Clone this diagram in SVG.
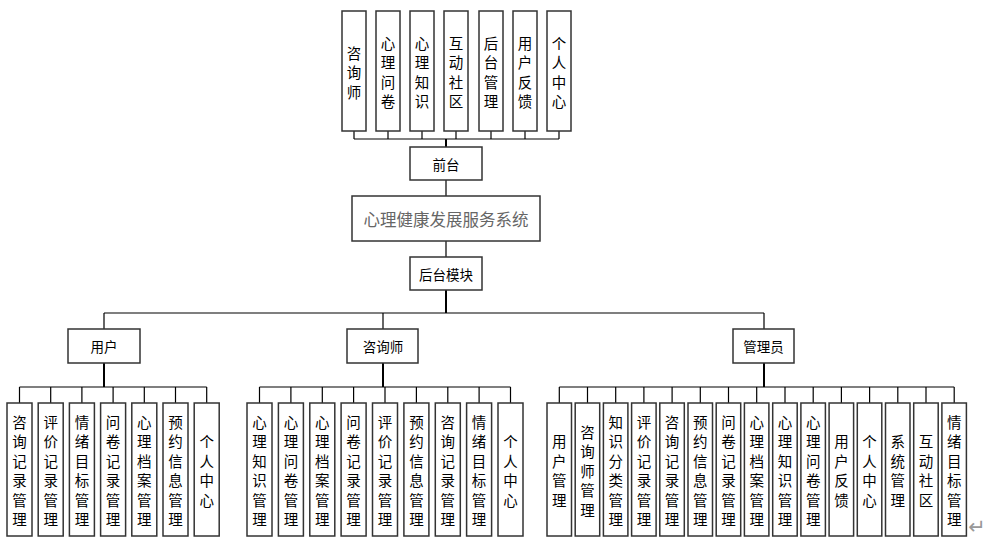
<svg xmlns="http://www.w3.org/2000/svg" width="989" height="545" viewBox="0 0 989 545">
<style>
.box{fill:#fff;stroke:#333;stroke-width:1.5}
.ln{stroke:#000;stroke-width:1.2;fill:none}
.tk{stroke:#000;stroke-width:2;fill:none}
text{font-family:"Noto Sans CJK SC","Noto Sans",sans-serif;fill:#000;text-anchor:middle;dominant-baseline:central}
.v{font-size:14.5px}
.h{font-size:13.5px}
.title{font-size:16.5px;fill:#666}
</style>
<rect width="989" height="545" fill="#fff"/>
<g id="connectors">
<path class="ln" d="M354 131V139M388 131V139M422 131V139M456 131V139M491 131V139M525 131V139M559 131V139M354 139H559"/>
<path class="tk" d="M446 139V147"/>
<path class="ln" d="M446 180V196M446 241V257"/>
<path class="tk" d="M446 290V313"/>
<path class="ln" d="M104 313H764M104 313V329M383 313V329M764 313V329"/>
<path class="tk" d="M104 363V387M383 363V387M764 363V387"/>
<path class="ln" d="M19.5 387H206.7M19.5 387V403M50.7 387V403M81.9 387V403M113.1 387V403M144.3 387V403M175.5 387V403M206.7 387V403"/>
<path class="ln" d="M259.5 387H510.5M259.5 387V403M290.9 387V403M322.3 387V403M353.6 387V403M385 387V403M416.4 387V403M447.8 387V403M479.1 387V403M510.5 387V403"/>
<path class="ln" d="M559.3 387H954.2M559.3 387V403M587.5 387V403M615.7 387V403M643.9 387V403M672.1 387V403M700.3 387V403M728.5 387V403M756.7 387V403M785 387V403M813.2 387V403M841.4 387V403M869.6 387V403M897.8 387V403M926 387V403M954.2 387V403"/>
</g>
<g id="top-nodes">
<g id="f1"><rect class="box" x="342" y="11" width="24" height="120"/><text class="v"><tspan x="354" y="51.5">咨</tspan><tspan x="354" y="71">询</tspan><tspan x="354" y="90.5">师</tspan></text></g>
<g id="f2"><rect class="box" x="376" y="11" width="24" height="120"/><text class="v"><tspan x="388" y="41.75">心</tspan><tspan x="388" y="61.25">理</tspan><tspan x="388" y="80.75">问</tspan><tspan x="388" y="100.25">卷</tspan></text></g>
<g id="f3"><rect class="box" x="410" y="11" width="24" height="120"/><text class="v"><tspan x="422" y="41.75">心</tspan><tspan x="422" y="61.25">理</tspan><tspan x="422" y="80.75">知</tspan><tspan x="422" y="100.25">识</tspan></text></g>
<g id="f4"><rect class="box" x="444" y="11" width="24" height="120"/><text class="v"><tspan x="456" y="41.75">互</tspan><tspan x="456" y="61.25">动</tspan><tspan x="456" y="80.75">社</tspan><tspan x="456" y="100.25">区</tspan></text></g>
<g id="f5"><rect class="box" x="479" y="11" width="24" height="120"/><text class="v"><tspan x="491" y="41.75">后</tspan><tspan x="491" y="61.25">台</tspan><tspan x="491" y="80.75">管</tspan><tspan x="491" y="100.25">理</tspan></text></g>
<g id="f6"><rect class="box" x="513" y="11" width="24" height="120"/><text class="v"><tspan x="525" y="41.75">用</tspan><tspan x="525" y="61.25">户</tspan><tspan x="525" y="80.75">反</tspan><tspan x="525" y="100.25">馈</tspan></text></g>
<g id="f7"><rect class="box" x="547" y="11" width="24" height="120"/><text class="v"><tspan x="559" y="41.75">个</tspan><tspan x="559" y="61.25">人</tspan><tspan x="559" y="80.75">中</tspan><tspan x="559" y="100.25">心</tspan></text></g>
</g>
<g id="frontend"><rect class="box" x="410" y="147" width="72" height="33"/><text class="h" x="446" y="163.5">前台</text></g>
<g id="system"><rect class="box" x="352" y="196" width="188" height="45"/><text class="title" x="446" y="218.5">心理健康发展服务系统</text></g>
<g id="backend"><rect class="box" x="410" y="257" width="72" height="33"/><text class="h" x="446" y="273.5">后台模块</text></g>
<g id="user"><rect class="box" x="68" y="329" width="72" height="34"/><text class="h" x="104" y="346">用户</text></g>
<g id="counselor"><rect class="box" x="347" y="329" width="71" height="34"/><text class="h" x="383" y="346">咨询师</text></g>
<g id="admin"><rect class="box" x="733" y="329" width="61" height="34"/><text class="h" x="763.5" y="346">管理员</text></g>
<g id="user-modules">
<g id="u1"><rect class="box" x="7" y="403" width="25" height="133"/><text class="v"><tspan x="19.5" y="420.75">咨</tspan><tspan x="19.5" y="440.25">询</tspan><tspan x="19.5" y="459.75">记</tspan><tspan x="19.5" y="479.25">录</tspan><tspan x="19.5" y="498.75">管</tspan><tspan x="19.5" y="518.25">理</tspan></text></g>
<g id="u2"><rect class="box" x="38.2" y="403" width="25" height="133"/><text class="v"><tspan x="50.7" y="420.75">评</tspan><tspan x="50.7" y="440.25">价</tspan><tspan x="50.7" y="459.75">记</tspan><tspan x="50.7" y="479.25">录</tspan><tspan x="50.7" y="498.75">管</tspan><tspan x="50.7" y="518.25">理</tspan></text></g>
<g id="u3"><rect class="box" x="69.4" y="403" width="25" height="133"/><text class="v"><tspan x="81.9" y="420.75">情</tspan><tspan x="81.9" y="440.25">绪</tspan><tspan x="81.9" y="459.75">目</tspan><tspan x="81.9" y="479.25">标</tspan><tspan x="81.9" y="498.75">管</tspan><tspan x="81.9" y="518.25">理</tspan></text></g>
<g id="u4"><rect class="box" x="100.6" y="403" width="25" height="133"/><text class="v"><tspan x="113.1" y="420.75">问</tspan><tspan x="113.1" y="440.25">卷</tspan><tspan x="113.1" y="459.75">记</tspan><tspan x="113.1" y="479.25">录</tspan><tspan x="113.1" y="498.75">管</tspan><tspan x="113.1" y="518.25">理</tspan></text></g>
<g id="u5"><rect class="box" x="131.8" y="403" width="25" height="133"/><text class="v"><tspan x="144.3" y="420.75">心</tspan><tspan x="144.3" y="440.25">理</tspan><tspan x="144.3" y="459.75">档</tspan><tspan x="144.3" y="479.25">案</tspan><tspan x="144.3" y="498.75">管</tspan><tspan x="144.3" y="518.25">理</tspan></text></g>
<g id="u6"><rect class="box" x="163" y="403" width="25" height="133"/><text class="v"><tspan x="175.5" y="420.75">预</tspan><tspan x="175.5" y="440.25">约</tspan><tspan x="175.5" y="459.75">信</tspan><tspan x="175.5" y="479.25">息</tspan><tspan x="175.5" y="498.75">管</tspan><tspan x="175.5" y="518.25">理</tspan></text></g>
<g id="u7"><rect class="box" x="194.2" y="403" width="25" height="133"/><text class="v"><tspan x="206.7" y="440.25">个</tspan><tspan x="206.7" y="459.75">人</tspan><tspan x="206.7" y="479.25">中</tspan><tspan x="206.7" y="498.75">心</tspan></text></g>
</g>
<g id="counselor-modules">
<g id="c1"><rect class="box" x="247" y="403" width="25" height="133"/><text class="v"><tspan x="259.5" y="420.75">心</tspan><tspan x="259.5" y="440.25">理</tspan><tspan x="259.5" y="459.75">知</tspan><tspan x="259.5" y="479.25">识</tspan><tspan x="259.5" y="498.75">管</tspan><tspan x="259.5" y="518.25">理</tspan></text></g>
<g id="c2"><rect class="box" x="278.4" y="403" width="25" height="133"/><text class="v"><tspan x="290.9" y="420.75">心</tspan><tspan x="290.9" y="440.25">理</tspan><tspan x="290.9" y="459.75">问</tspan><tspan x="290.9" y="479.25">卷</tspan><tspan x="290.9" y="498.75">管</tspan><tspan x="290.9" y="518.25">理</tspan></text></g>
<g id="c3"><rect class="box" x="309.8" y="403" width="25" height="133"/><text class="v"><tspan x="322.3" y="420.75">心</tspan><tspan x="322.3" y="440.25">理</tspan><tspan x="322.3" y="459.75">档</tspan><tspan x="322.3" y="479.25">案</tspan><tspan x="322.3" y="498.75">管</tspan><tspan x="322.3" y="518.25">理</tspan></text></g>
<g id="c4"><rect class="box" x="341.1" y="403" width="25" height="133"/><text class="v"><tspan x="353.6" y="420.75">问</tspan><tspan x="353.6" y="440.25">卷</tspan><tspan x="353.6" y="459.75">记</tspan><tspan x="353.6" y="479.25">录</tspan><tspan x="353.6" y="498.75">管</tspan><tspan x="353.6" y="518.25">理</tspan></text></g>
<g id="c5"><rect class="box" x="372.5" y="403" width="25" height="133"/><text class="v"><tspan x="385" y="420.75">评</tspan><tspan x="385" y="440.25">价</tspan><tspan x="385" y="459.75">记</tspan><tspan x="385" y="479.25">录</tspan><tspan x="385" y="498.75">管</tspan><tspan x="385" y="518.25">理</tspan></text></g>
<g id="c6"><rect class="box" x="403.9" y="403" width="25" height="133"/><text class="v"><tspan x="416.4" y="420.75">预</tspan><tspan x="416.4" y="440.25">约</tspan><tspan x="416.4" y="459.75">信</tspan><tspan x="416.4" y="479.25">息</tspan><tspan x="416.4" y="498.75">管</tspan><tspan x="416.4" y="518.25">理</tspan></text></g>
<g id="c7"><rect class="box" x="435.3" y="403" width="25" height="133"/><text class="v"><tspan x="447.8" y="420.75">咨</tspan><tspan x="447.8" y="440.25">询</tspan><tspan x="447.8" y="459.75">记</tspan><tspan x="447.8" y="479.25">录</tspan><tspan x="447.8" y="498.75">管</tspan><tspan x="447.8" y="518.25">理</tspan></text></g>
<g id="c8"><rect class="box" x="466.6" y="403" width="25" height="133"/><text class="v"><tspan x="479.1" y="420.75">情</tspan><tspan x="479.1" y="440.25">绪</tspan><tspan x="479.1" y="459.75">目</tspan><tspan x="479.1" y="479.25">标</tspan><tspan x="479.1" y="498.75">管</tspan><tspan x="479.1" y="518.25">理</tspan></text></g>
<g id="c9"><rect class="box" x="498" y="403" width="25" height="133"/><text class="v"><tspan x="510.5" y="440.25">个</tspan><tspan x="510.5" y="459.75">人</tspan><tspan x="510.5" y="479.25">中</tspan><tspan x="510.5" y="498.75">心</tspan></text></g>
</g>
<g id="admin-modules">
<g id="a1"><rect class="box" x="547" y="403" width="24.5" height="133"/><text class="v"><tspan x="559.3" y="440.25">用</tspan><tspan x="559.3" y="459.75">户</tspan><tspan x="559.3" y="479.25">管</tspan><tspan x="559.3" y="498.75">理</tspan></text></g>
<g id="a2"><rect class="box" x="575.2" y="403" width="24.5" height="133"/><text class="v"><tspan x="587.5" y="430.5">咨</tspan><tspan x="587.5" y="450">询</tspan><tspan x="587.5" y="469.5">师</tspan><tspan x="587.5" y="489">管</tspan><tspan x="587.5" y="508.5">理</tspan></text></g>
<g id="a3"><rect class="box" x="603.4" y="403" width="24.5" height="133"/><text class="v"><tspan x="615.7" y="420.75">知</tspan><tspan x="615.7" y="440.25">识</tspan><tspan x="615.7" y="459.75">分</tspan><tspan x="615.7" y="479.25">类</tspan><tspan x="615.7" y="498.75">管</tspan><tspan x="615.7" y="518.25">理</tspan></text></g>
<g id="a4"><rect class="box" x="631.6" y="403" width="24.5" height="133"/><text class="v"><tspan x="643.9" y="420.75">评</tspan><tspan x="643.9" y="440.25">价</tspan><tspan x="643.9" y="459.75">记</tspan><tspan x="643.9" y="479.25">录</tspan><tspan x="643.9" y="498.75">管</tspan><tspan x="643.9" y="518.25">理</tspan></text></g>
<g id="a5"><rect class="box" x="659.8" y="403" width="24.5" height="133"/><text class="v"><tspan x="672.1" y="420.75">咨</tspan><tspan x="672.1" y="440.25">询</tspan><tspan x="672.1" y="459.75">记</tspan><tspan x="672.1" y="479.25">录</tspan><tspan x="672.1" y="498.75">管</tspan><tspan x="672.1" y="518.25">理</tspan></text></g>
<g id="a6"><rect class="box" x="688" y="403" width="24.5" height="133"/><text class="v"><tspan x="700.3" y="420.75">预</tspan><tspan x="700.3" y="440.25">约</tspan><tspan x="700.3" y="459.75">信</tspan><tspan x="700.3" y="479.25">息</tspan><tspan x="700.3" y="498.75">管</tspan><tspan x="700.3" y="518.25">理</tspan></text></g>
<g id="a7"><rect class="box" x="716.2" y="403" width="24.5" height="133"/><text class="v"><tspan x="728.5" y="420.75">问</tspan><tspan x="728.5" y="440.25">卷</tspan><tspan x="728.5" y="459.75">记</tspan><tspan x="728.5" y="479.25">录</tspan><tspan x="728.5" y="498.75">管</tspan><tspan x="728.5" y="518.25">理</tspan></text></g>
<g id="a8"><rect class="box" x="744.4" y="403" width="24.5" height="133"/><text class="v"><tspan x="756.7" y="420.75">心</tspan><tspan x="756.7" y="440.25">理</tspan><tspan x="756.7" y="459.75">档</tspan><tspan x="756.7" y="479.25">案</tspan><tspan x="756.7" y="498.75">管</tspan><tspan x="756.7" y="518.25">理</tspan></text></g>
<g id="a9"><rect class="box" x="772.7" y="403" width="24.5" height="133"/><text class="v"><tspan x="785" y="420.75">心</tspan><tspan x="785" y="440.25">理</tspan><tspan x="785" y="459.75">知</tspan><tspan x="785" y="479.25">识</tspan><tspan x="785" y="498.75">管</tspan><tspan x="785" y="518.25">理</tspan></text></g>
<g id="a10"><rect class="box" x="800.9" y="403" width="24.5" height="133"/><text class="v"><tspan x="813.2" y="420.75">心</tspan><tspan x="813.2" y="440.25">理</tspan><tspan x="813.2" y="459.75">问</tspan><tspan x="813.2" y="479.25">卷</tspan><tspan x="813.2" y="498.75">管</tspan><tspan x="813.2" y="518.25">理</tspan></text></g>
<g id="a11"><rect class="box" x="829.1" y="403" width="24.5" height="133"/><text class="v"><tspan x="841.4" y="440.25">用</tspan><tspan x="841.4" y="459.75">户</tspan><tspan x="841.4" y="479.25">反</tspan><tspan x="841.4" y="498.75">馈</tspan></text></g>
<g id="a12"><rect class="box" x="857.3" y="403" width="24.5" height="133"/><text class="v"><tspan x="869.6" y="440.25">个</tspan><tspan x="869.6" y="459.75">人</tspan><tspan x="869.6" y="479.25">中</tspan><tspan x="869.6" y="498.75">心</tspan></text></g>
<g id="a13"><rect class="box" x="885.5" y="403" width="24.5" height="133"/><text class="v"><tspan x="897.8" y="440.25">系</tspan><tspan x="897.8" y="459.75">统</tspan><tspan x="897.8" y="479.25">管</tspan><tspan x="897.8" y="498.75">理</tspan></text></g>
<g id="a14"><rect class="box" x="913.7" y="403" width="24.5" height="133"/><text class="v"><tspan x="926" y="440.25">互</tspan><tspan x="926" y="459.75">动</tspan><tspan x="926" y="479.25">社</tspan><tspan x="926" y="498.75">区</tspan></text></g>
<g id="a15"><rect class="box" x="941.9" y="403" width="24.5" height="133"/><text class="v"><tspan x="954.2" y="420.75">情</tspan><tspan x="954.2" y="440.25">绪</tspan><tspan x="954.2" y="459.75">目</tspan><tspan x="954.2" y="479.25">标</tspan><tspan x="954.2" y="498.75">管</tspan><tspan x="954.2" y="518.25">理</tspan></text></g>
</g>
<text x="977" y="527" style="font-family:'DejaVu Sans',sans-serif;font-size:21px;fill:#999">↵</text>
</svg>
